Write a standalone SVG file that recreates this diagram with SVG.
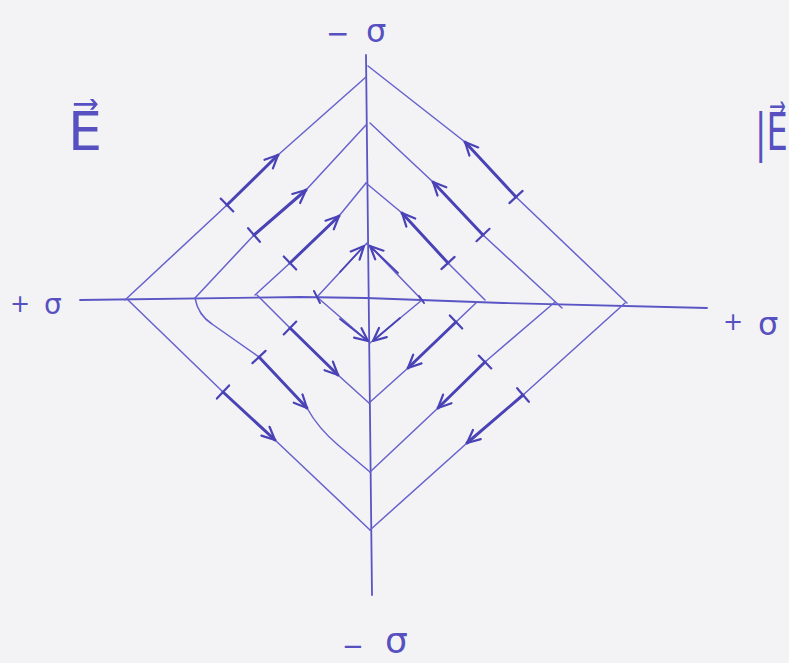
<svg xmlns="http://www.w3.org/2000/svg" width="789" height="663" viewBox="0 0 789 663">
  <style>
    .bg { fill: #f3f3f6; }
    .axis { fill: none; stroke: #5a55c4; stroke-width: 1.8; stroke-linecap: round; stroke-linejoin: round; }
    .edge { fill: none; stroke: #6762cc; stroke-width: 1.5; stroke-linecap: round; stroke-linejoin: round; }
    .arrow { fill: none; stroke: #4a43b6; stroke-width: 3; stroke-linecap: round; marker-start: url(#tick); marker-end: url(#head); }
    .inner { fill: none; stroke: #4a43b6; stroke-width: 1.8; stroke-linecap: round; marker-end: url(#head); }
    .mark { fill: none; stroke: #4a43b6; stroke-width: 2; stroke-linecap: round; }
    .lbl { font-family: "DejaVu Sans", "Liberation Sans", sans-serif; fill: #5650c0; }
  </style>
  <defs>
    <marker id="head" viewBox="-16 -10 20 20" refX="0" refY="0" markerWidth="20" markerHeight="20" markerUnits="userSpaceOnUse" orient="auto">
      <path d="M-13,-6 L0,0 L-13,6" fill="none" stroke="#4a43b6" stroke-width="2.2" stroke-linecap="round" stroke-linejoin="round"/>
    </marker>
    <marker id="tick" viewBox="-10 -10 20 20" refX="0" refY="0" markerWidth="20" markerHeight="20" markerUnits="userSpaceOnUse" orient="auto">
      <path d="M0,-9 L0,9" fill="none" stroke="#4a43b6" stroke-width="2.2" stroke-linecap="round"/>
    </marker>
  </defs>

  <rect class="bg" x="0" y="0" width="789" height="663"/>

  <g id="axes">
    <path class="axis" d="M366,55 L372,595"/>
    <path class="axis" d="M80,300 L300,297 L366,298 L503,303 L707,308"/>
  </g>

  <g id="diamond-1">
    <path class="edge" d="M125,300 L227,205 L278,155 L366,77"/>
    <path class="edge" d="M368,66 L465,142 L516,197 L627,303"/>
    <path class="edge" d="M625,303 L523,395 L467,443 L370,530"/>
    <path class="edge" d="M128,300 L223,392 L275,440 L370,530"/>
  </g>
  <g id="diamond-2">
    <path class="edge" d="M195,298 L254,235 L306,190 L366,125"/>
    <path class="edge" d="M370,123 L433,182 L483,235 L562,308"/>
    <path class="edge" d="M555,302 L485,362 L438,408 L370,472"/>
    <path class="edge" d="M195,298 Q198,315 212,324 L259,357 L307,408 Q318,428 338,445 L370,472"/>
  </g>
  <g id="diamond-3">
    <path class="edge" d="M255,295 L290,263 L339,216 L366,183"/>
    <path class="edge" d="M366,183 L402,213 L448,263 L485,300"/>
    <path class="edge" d="M477,302 L456,322 L408,368 L369,403"/>
    <path class="edge" d="M257,295 L290,328 L338,375 L369,403"/>
  </g>
  <g id="diamond-4">
    <path class="edge" d="M367,243 L317,297 L370,343 L422,300 Z"/>
    <path class="mark" d="M314,291 L320,303"/>
    <path class="mark" d="M419,296 L424,303"/>
  </g>

  <g id="connectors">
    <path class="arrow" d="M227,205 L278,155"/>
    <path class="arrow" d="M254,235 L306,190"/>
    <path class="arrow" d="M290,263 L339,216"/>
    <path class="arrow" d="M516,197 L465,142"/>
    <path class="arrow" d="M483,235 L433,182"/>
    <path class="arrow" d="M448,263 L402,213"/>
    <path class="arrow" d="M223,392 L275,440"/>
    <path class="arrow" d="M259,357 L307,408"/>
    <path class="arrow" d="M290,328 L338,375"/>
    <path class="arrow" d="M523,395 L467,443"/>
    <path class="arrow" d="M485,362 L438,408"/>
    <path class="arrow" d="M456,322 L408,368"/>
    <path class="inner" d="M340,272 L364,246"/>
    <path class="inner" d="M398,273 L370,246"/>
    <path class="inner" d="M340,319 L368,341"/>
    <path class="inner" d="M400,318 L373,341"/>
  </g>

  <g id="labels">
    <text class="lbl" font-size="28" x="326" y="43">−</text>
    <text class="lbl" font-size="32" x="366" y="42">σ</text>
    <text class="lbl" font-size="26" x="342" y="655">−</text>
    <text class="lbl" font-size="36" x="385" y="653">σ</text>
    <text class="lbl" font-size="24" x="10" y="312">+</text>
    <text class="lbl" font-size="28" x="44" y="314">σ</text>
    <text class="lbl" font-size="24" x="723" y="330">+</text>
    <text class="lbl" font-size="32" x="758" y="335">σ</text>
    <text class="lbl" font-size="54" x="68" y="150">E⃗</text>
    <text class="lbl" font-size="52" transform="translate(755,150) scale(0.65,1)" x="0" y="0">|E⃗</text>
  </g>
</svg>
